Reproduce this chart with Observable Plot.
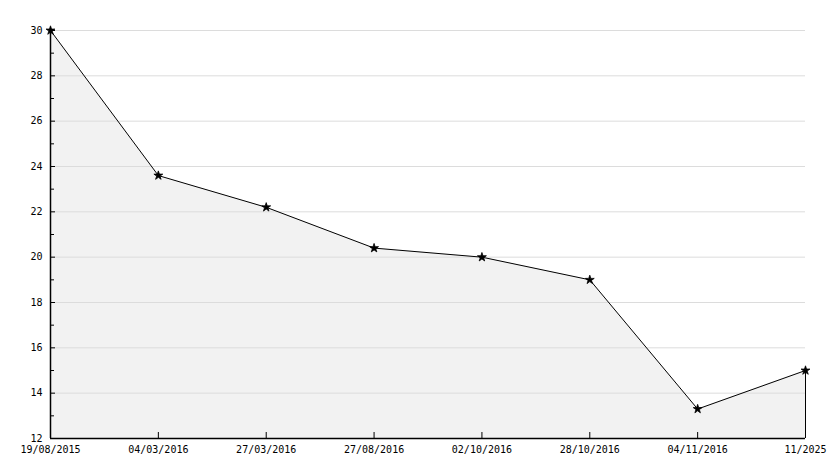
<!DOCTYPE html>
<html>
<head>
<meta charset="utf-8">
<script src="https://cdn.jsdelivr.net/npm/d3@7"></script>
<script src="https://cdn.jsdelivr.net/npm/@observablehq/plot@0.6"></script>
<style>
  html, body { margin: 0; padding: 0; background: #fff; overflow: hidden; }
  svg { display: block; }
</style>
</head>
<body>
<div id="chart"></div>
<script>
const dates = ["19/08/2015", "04/03/2016", "27/03/2016", "27/08/2016", "02/10/2016", "28/10/2016", "04/11/2016", "11/2025"];
const values = [30, 23.6, 22.2, 20.4, 20.0, 19.0, 13.3, 15.0];
const yTicks = [12, 14, 16, 18, 20, 22, 24, 26, 28, 30];
const yMinorTicks = [13, 15, 17, 19, 21, 23, 25, 27, 29];
const yBase = 12;

const data = dates.map((d, i) => ({label: d, value: values[i]}));
const last = [data[data.length - 1]];

const chart = Plot.plot({
  width: 834,
  height: 468,
  marginLeft: 50,
  marginRight: 29,
  marginTop: 30,
  marginBottom: 30,
  style: {fontFamily: "'DejaVu Sans Mono', monospace", fontSize: "10px", color: "#000", background: "#fff"},
  x: {type: "point", domain: dates, padding: 0, round: false},
  y: {domain: [yBase, 30]},
  marks: [
    Plot.areaY(data, {x: "label", y1: yBase, y2: "value", fill: "#f2f2f2"}),
    Plot.gridY(yTicks, {stroke: "#dcdcdc", strokeOpacity: 1}),
    Plot.line(data, {x: "label", y: "value", stroke: "#000", strokeWidth: 1}),
    Plot.ruleX(last, {x: "label", y1: yBase, y2: "value", stroke: "#000"}),
    Plot.axisY({ticks: yTicks, tickSize: 0, tickPadding: 8, label: null}),
    Plot.axisY({ticks: yTicks, tickSize: -5, tickFormat: () => "", label: null}),
    Plot.axisY({ticks: yMinorTicks, tickSize: -4, tickFormat: () => "", label: null}),
    Plot.axisX({tickSize: 0, tickPadding: 7, label: null}),
    Plot.axisX({tickSize: -6, tickFormat: () => "", label: null}),
    Plot.ruleY([yBase], {stroke: "#000", strokeWidth: 1.5}),
    Plot.ruleX([dates[0]], {stroke: "#000", strokeWidth: 1.5}),
    Plot.dot(data, {x: "label", y: "value", symbol: "star", r: 2.8, fill: "#000", stroke: "#000", strokeWidth: 0.8})
  ]
});
document.getElementById("chart").appendChild(chart);
</script>
</body>
</html>
